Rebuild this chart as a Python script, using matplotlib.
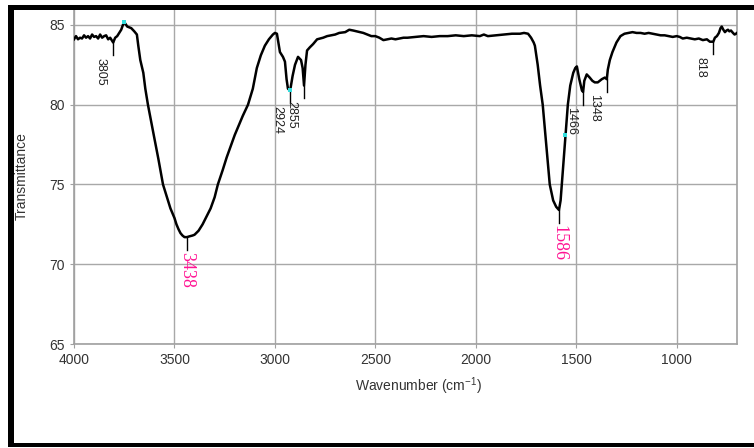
import matplotlib
matplotlib.use("Agg")
import matplotlib.pyplot as plt
from matplotlib.patches import Rectangle

# FT-IR spectrum
wavenumber = [
    4000, 3990, 3980, 3970, 3960, 3950, 3940, 3930, 3920, 3910, 3900, 3890,
    3880, 3870, 3860, 3850, 3840, 3830, 3820, 3805, 3795, 3785, 3775, 3765,
    3751, 3735, 3715, 3700, 3687, 3680, 3670, 3655, 3645, 3632, 3620, 3600,
    3580, 3557, 3540, 3520, 3500, 3490, 3480, 3470, 3460, 3450, 3438, 3425,
    3410, 3400, 3380, 3360, 3340, 3320, 3300, 3284, 3260, 3240, 3220, 3200,
    3180, 3160, 3134, 3110, 3090, 3070, 3050, 3030, 3010, 3000, 2990, 2975,
    2960, 2950, 2942, 2935, 2924, 2912, 2900, 2885, 2870, 2862, 2855, 2848,
    2840, 2826, 2810, 2790, 2760, 2740, 2700, 2680, 2650, 2630, 2610, 2577,
    2560, 2540, 2520, 2500, 2480, 2460, 2440, 2420, 2400, 2380, 2360, 2340,
    2300, 2260, 2220, 2180, 2140, 2100, 2060, 2020, 1980, 1960, 1940, 1900,
    1860, 1820, 1780, 1760, 1740, 1725, 1712, 1706, 1698, 1692, 1680, 1667,
    1650, 1632, 1615, 1600, 1586, 1578, 1572, 1560, 1550, 1542, 1530, 1515,
    1505, 1497, 1485, 1472, 1466, 1460, 1448, 1433, 1420, 1408, 1393, 1373,
    1358, 1348, 1343, 1333, 1320, 1300, 1280, 1260, 1240, 1220, 1200, 1180,
    1160, 1140, 1120, 1100, 1080, 1060, 1040, 1020, 1000, 985, 970, 950,
    930, 910, 890, 870, 850, 835, 818, 810, 800, 790, 782, 776, 768, 760,
    752, 745, 738, 730, 720, 712, 705, 700,
]
transmittance = [
    84.1, 84.3, 84.1, 84.2, 84.15, 84.35, 84.2, 84.3, 84.15, 84.4, 84.25, 84.3,
    84.15, 84.4, 84.2, 84.3, 84.35, 84.1, 84.2, 83.9, 84.2, 84.3, 84.5, 84.7,
    85.2, 84.9, 84.8, 84.6, 84.4, 83.7, 82.8, 82.0, 81.0, 80.0, 79.2, 77.9,
    76.6, 75.0, 74.3, 73.5, 72.9, 72.5, 72.2, 71.95, 71.8, 71.7, 71.7, 71.75,
    71.8, 71.85, 72.1, 72.5, 73.0, 73.5, 74.2, 75.0, 75.9, 76.7, 77.4, 78.1,
    78.7, 79.3, 80.0, 81.0, 82.3, 83.1, 83.7, 84.1, 84.4, 84.5, 84.45, 83.3,
    83.0, 82.7, 81.6, 81.0, 80.9, 81.8, 82.5, 83.0, 82.8, 82.3, 81.2, 82.5,
    83.4, 83.6, 83.8, 84.1, 84.2, 84.3, 84.4, 84.5, 84.55, 84.7, 84.65, 84.55,
    84.5, 84.4, 84.3, 84.3, 84.2, 84.05, 84.1, 84.15, 84.1, 84.15, 84.2, 84.2,
    84.25, 84.3, 84.25, 84.3, 84.3, 84.35, 84.3, 84.35, 84.3, 84.4, 84.3, 84.35,
    84.4, 84.45, 84.45, 84.5, 84.45, 84.2, 83.9, 83.7, 83.0, 82.5, 81.2, 80.0,
    77.6, 75.0, 74.0, 73.6, 73.4, 74.0, 75.0, 77.0, 78.6, 80.0, 81.2, 82.0,
    82.3, 82.4, 81.6, 80.9, 80.8, 81.5, 81.9, 81.7, 81.5, 81.4, 81.4, 81.6,
    81.7, 81.6, 82.2, 82.8, 83.3, 83.9, 84.3, 84.45, 84.5, 84.55, 84.5, 84.5,
    84.45, 84.5, 84.45, 84.4, 84.35, 84.35, 84.3, 84.25, 84.3, 84.25, 84.15, 84.2,
    84.15, 84.1, 84.15, 84.05, 84.1, 83.95, 83.95, 84.2, 84.3, 84.5, 84.8, 84.9,
    84.7, 84.55, 84.65, 84.7, 84.6, 84.65, 84.5, 84.4, 84.45, 84.5,
]

# labelled peaks
peak_pos = [3805, 3438, 2924, 2855, 1586, 1466, 1348, 818]
peak_val = [83.9, 71.7, 80.9, 81.2, 73.4, 80.8, 81.6, 83.95]
peak_major = [False, True, False, False, True, False, False, False]

# small cyan cursor markers
marker_x = [3751, 2924, 1557]
marker_y = [85.2, 80.9, 78.1]

fig = plt.figure(figsize=(7.54, 4.48), dpi=100)
ax = fig.add_axes([74 / 754, 1 - 344 / 448, 663 / 754, 335 / 448])

ax.plot(wavenumber, transmittance, color="black", lw=1.8, zorder=3)
ax.scatter(marker_x, marker_y, s=5, color="#33dddd", zorder=4, marker="s",
           linewidths=0)

for x, y, major in zip(peak_pos, peak_val, peak_major):
    ax.plot([x, x], [y, y - 0.8], color="black", lw=1, zorder=3)
    if major:
        ax.text(x, y - 0.95, str(x), rotation=-90, ha="center", va="top",
                color="#ff1493", fontsize=13, family="Liberation Serif")
    else:
        ax.text(x + 62, y - 0.95, str(x), rotation=-90, ha="center", va="top",
                color="#222222", fontsize=9, family="Liberation Sans")

ax.set_xlim(4000, 700)
ax.set_ylim(65, 86)
ax.set_xticks([4000, 3500, 3000, 2500, 2000, 1500, 1000])
ax.set_yticks([65, 70, 75, 80, 85])
ax.grid(True, color="#a8a8a8", lw=1)
ax.set_axisbelow(True)
for s in ax.spines.values():
    s.set_color("#a0a0a0")
    s.set_linewidth(1.2)
ax.tick_params(colors="#a0a0a0", labelcolor="#333333", labelsize=10, length=3)
for lab in ax.get_xticklabels() + ax.get_yticklabels():
    lab.set_family("Liberation Sans")

plt.rcParams["mathtext.default"] = "regular"
ax.set_xlabel(r"Wavenumber (cm$^{-1}$)", fontsize=10, color="#333333",
              family="Liberation Sans")
ax.xaxis.set_label_coords(0.519, -0.095)
ax.set_ylabel("Transmittance", fontsize=10, color="#333333",
              family="Liberation Sans")
ax.yaxis.set_label_coords(-0.069, 0.5)

# black frame around the window (top, left, bottom)
for rx, ry, rw, rh in [(8, 5, 746, 5), (8, 5, 6, 442), (8, 443, 746, 4)]:
    fig.add_artist(Rectangle((rx / 754, 1 - (ry + rh) / 448), rw / 754, rh / 448,
                             transform=fig.transFigure, color="black", lw=0,
                             zorder=10))

fig.savefig("out.png", dpi=100)
